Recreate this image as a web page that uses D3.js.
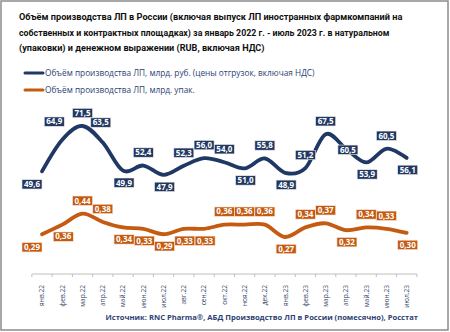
<!DOCTYPE html>
<html>
<head>
<meta charset="utf-8">
<script src="https://cdn.jsdelivr.net/npm/d3@7"></script>
<style>
  body { margin: 0; background: #fff; }
  svg { display: block; font-family: "Open Sans", sans-serif; }
</style>
</head>
<body>
<svg width="450" height="332"></svg>
<script>
// data
var months = ["янв.22","фев.22","мар.22","апр.22","май.22","июн.22","июл.22","авг.22","сен.22","окт.22",
              "ноя.22","дек.22","янв.23","фев.23","мар.23","апр.23","май.23","июн.23","июл.23"];
var rubValues = [49.6, 64.9, 71.5, 63.5, 49.9, 52.4, 47.9, 52.3, 56.0, 54.0, 51.0, 55.8, 48.9, 51.2, 67.5, 60.5, 53.9, 60.5, 56.1];
var packValues = [0.29, 0.36, 0.44, 0.38, 0.34, 0.33, 0.29, 0.33, 0.33, 0.36, 0.36, 0.36, 0.27, 0.34, 0.37, 0.32, 0.34, 0.33, 0.30];
var seriesNames = ["Объём производства ЛП, млрд. руб. (цены отгрузок, включая НДС)",
                   "Объём производства ЛП, млрд. упак."];
var titleLines = ["Объём производства ЛП в России (включая выпуск ЛП иностранных фармкомпаний на",
                  "собственных и контрактных площадках) за январь 2022 г. - июль 2023 г. в натуральном",
                  "(упаковки) и денежном выражении (RUB, включая НДС)"];
var sourceText = "Источник: RNC Pharma®, АБД Производство ЛП в России (помесячно), Росстат";

// label placement (a = above, b = below, ...)
var rubPlace = ["bl","al","a","aa","b","a","b","a","a","a","b","a","b","a","a","c","b","a","b"];
var packPlace = ["bl","b","a","a","b","b","b","b","b","a","a","a","b","a","a","b","a","a","b"];
var placeOffset = {
    a: [0, -13], b: [1, 12], c: [2, 1], bl: [-10, 13], al: [-8, -18], aa: [-2, -20]
};

var navy = "#1f3864";
var orange = "#c55a11";

var svg = d3.select("svg");

// shrink or grow font so the text takes the given width
function fitWidth(sel, widths, base){
    sel.each(function(d, i){
        var w = this.getComputedTextLength();
        d3.select(this).style("font-size", (base * widths[i] / w) + "px");
    });
}

// frame
svg.append("rect")
    .attr("x", 1).attr("y", 1)
    .attr("width", 447).attr("height", 329)
    .style("fill", "#fff")
    .style("stroke", "#8c8c8c")
    .style("stroke-width", 1.5);

// title
var titleWidths = [384, 371, 246];
var title = svg.selectAll(".title")
    .data(titleLines)
    .enter()
    .append("text")
    .attr("class", "title")
    .attr("x", 19)
    .attr("y", function(d, i){ return 20 + i * 15.5; })
    .style("font-family", "Roboto, sans-serif")
    .style("font-size", "10px")
    .style("font-weight", "bold")
    .style("fill", "#111")
    .text(function(d){ return d; });
fitWidth(title, titleWidths, 10);

// scales
var x = d3.scalePoint()
    .domain(months)
    .range([42, 406.7]);
var step = x.step();

var yRub = d3.scaleLinear()
    .domain([0, 80])
    .range([274, 108.4]);

var yPack = d3.scaleLinear()
    .domain([0, 2])
    .range([274, 0]);

// axis
var axisG = svg.append("g")
    .attr("class", "axis")
    .attr("transform", "translate(0,274)");

axisG.append("line")
    .attr("x1", x(months[0]) - step / 2)
    .attr("x2", x(months[months.length - 1]) + step / 2)
    .style("stroke", "#bfbfbf")
    .style("stroke-width", 1);

axisG.selectAll(".tick-mark")
    .data(d3.range(months.length + 1))
    .enter()
    .append("line")
    .attr("x1", function(i){ return x(months[0]) - step / 2 + i * step; })
    .attr("x2", function(i){ return x(months[0]) - step / 2 + i * step; })
    .attr("y1", 0).attr("y2", 3)
    .style("stroke", "#bfbfbf");

axisG.selectAll(".tick-label")
    .data(months)
    .enter()
    .append("text")
    .attr("transform", function(d){ return "translate(" + (x(d) + 2.4) + ",11) rotate(-90)"; })
    .attr("text-anchor", "end")
    .style("font-size", "6.6px")
    .style("fill", "#3b4a6b")
    .text(function(d){ return d; });

// lines
var line = function(yScale){
    return d3.line()
        .x(function(d, i){ return x(months[i]); })
        .y(function(d){ return yScale(d); })
        .curve(d3.curveCardinal.tension(0));
};

svg.append("path")
    .datum(rubValues)
    .attr("d", line(yRub))
    .style("fill", "none")
    .style("stroke", navy)
    .style("stroke-width", 3.8)
    .style("stroke-linecap", "round");

svg.append("path")
    .datum(packValues)
    .attr("d", line(yPack))
    .style("fill", "none")
    .style("stroke", orange)
    .style("stroke-width", 3.8)
    .style("stroke-linecap", "round");

// data labels
function drawLabels(values, yScale, place, color, fmt){
    var g = svg.append("g");
    var lab = g.selectAll("g")
        .data(values)
        .enter()
        .append("g")
        .attr("transform", function(d, i){
            var o = placeOffset[place[i]];
            return "translate(" + (x(months[i]) + o[0]) + "," + (yScale(d) + o[1]) + ")";
        });
    var rects = lab.append("rect")
        .style("fill", color)
        .style("stroke", "#f4e9e2")
        .style("stroke-width", 0.6);
    var texts = lab.append("text")
        .attr("text-anchor", "middle")
        .attr("dy", "0.35em")
        .style("font-size", "8px")
        .style("font-weight", "bold")
        .style("fill", "#fff")
        .text(function(d){ return fmt(d); });
    texts.each(function(d, i){
        var w = this.getComputedTextLength() + 4;
        d3.select(rects.nodes()[i])
            .attr("x", -w / 2).attr("y", -4.7)
            .attr("width", w).attr("height", 9.4);
    });
}

var comma = function(f){ return function(d){ return d3.format(f)(d).replace(".", ","); }; };
drawLabels(rubValues, yRub, rubPlace, navy, comma(".1f"));
drawLabels(packValues, yPack, packPlace, orange, comma(".2f"));

// legend
var legendWidths = [270, 150];
var legend = svg.selectAll(".legend")
    .data(seriesNames)
    .enter()
    .append("g")
    .attr("class", "legend")
    .attr("transform", function(d, i){ return "translate(25," + (73 + i * 17) + ")"; });

legend.append("line")
    .attr("x1", 0).attr("x2", 18)
    .style("stroke", function(d, i){ return i == 0 ? navy : orange; })
    .style("stroke-width", 3)
    .style("stroke-linecap", "round");

var legendText = legend.append("text")
    .attr("x", 20)
    .attr("dy", "0.35em")
    .style("font-size", "9px")
    .style("fill", "#2e3f74")
    .text(function(d){ return d; });
fitWidth(legendText, legendWidths, 9);

// source
var source = svg.append("text")
    .attr("x", 418)
    .attr("y", 320)
    .attr("text-anchor", "end")
    .style("font-size", "8px")
    .style("font-weight", "bold")
    .style("fill", "#2e3f74")
    .text(sourceText);
fitWidth(source, [313], 8);
</script>
</body>
</html>
